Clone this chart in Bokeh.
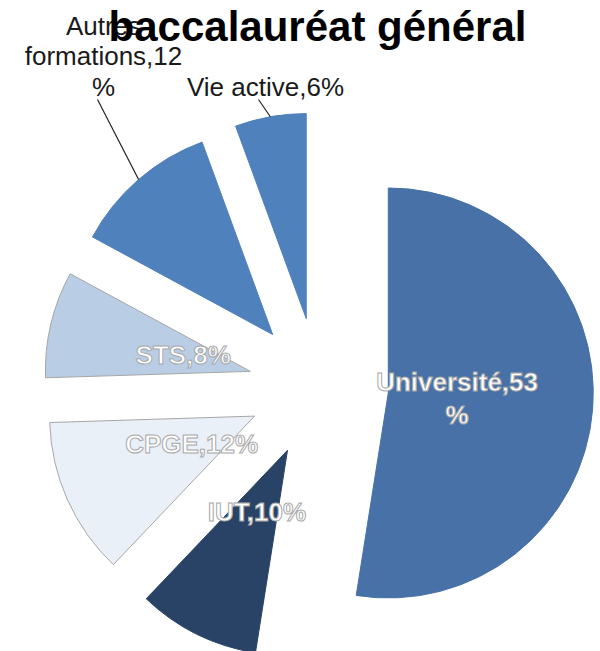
import math
from bokeh.plotting import figure
from bokeh.models import Range1d, ColumnDataSource
from bokeh.core.properties import value
from bokeh.embed import file_html
from bokeh.resources import INLINE

# ---- data ----
categories = ["Université", "IUT", "CPGE", "STS", "Autres formations", "Vie active"]
values = [52.5, 9.6, 12.4, 8.4, 11.5, 5.6]          # shares (%)
labels = ["Université,53\n%", "IUT,10%", "CPGE,12%", "STS,8%", "Autres\nformations,12\n%", "Vie active,6%"]
label_inside = [True, True, True, True, False, False]
colors = ["#4771A7", "#294366", "#EAF0F8", "#B9CDE5", "#4F81BD", "#4F81BD"]
edge_colors = ["#4771A7", "#294366", "#A6A6A6", "#A6A6A6", "#4F81BD", "#4F81BD"]
title_text = "baccalauréat général"

# ---- layout (page pixel space, y measured downward from page top) ----
W, H = 600, 651
CX, CY = 318, 387          # pie centre (page px)
R = 205                    # radius
EXPLODE = 70               # explosion distance
INNER_LABEL_DIST = 139     # from pie centre
outside_label_pos = {"Autres formations": (103, 56), "Vie active": (265, 86)}
outside_leader_start = {"Autres formations": (97, 99), "Vie active": (258, 99)}
FONT = "Liberation Sans"


def to_y(yp):
    return H - yp


p = figure(width=W, height=H, output_backend="svg", toolbar_location=None,
           x_range=Range1d(0, W), y_range=Range1d(0, H),
           min_border=0, outline_line_color=None)
p.axis.visible = False
p.grid.visible = False
p.background_fill_color = "white"
p.border_fill_color = "white"

total = sum(values)
xs, ys, starts, ends = [], [], [], []
in_x, in_y, in_t = [], [], []
out_x, out_y, out_t = [], [], []
lx0, ly0, lx1, ly1 = [], [], [], []
acc = 0.0
for cat, v, lab, inside in zip(categories, values, labels, label_inside):
    t1 = acc / total * 360.0
    acc += v
    t2 = acc / total * 360.0
    tm = math.radians((t1 + t2) / 2)
    dx, dy = math.sin(tm), math.cos(tm)   # y up
    ox = CX + EXPLODE * dx
    oy = to_y(CY) + EXPLODE * dy
    xs.append(ox)
    ys.append(oy)
    starts.append(math.radians(90 - t2))
    ends.append(math.radians(90 - t1))
    if inside:
        in_x.append(CX + INNER_LABEL_DIST * dx)
        in_y.append(to_y(CY) + INNER_LABEL_DIST * dy)
        in_t.append(lab)
    else:
        px, py = outside_label_pos[cat]
        out_x.append(px)
        out_y.append(to_y(py))
        out_t.append(lab)
        sx, sy = outside_leader_start[cat]
        lx0.append(sx)
        ly0.append(to_y(sy))
        lx1.append(ox + R * dx)
        ly1.append(oy + R * dy)

src = ColumnDataSource(dict(x=xs, y=ys, s=starts, e=ends, c=colors, lc=edge_colors))
p.wedge(x="x", y="y", radius=R, start_angle="s", end_angle="e", direction="anticlock",
        fill_color="c", line_color="lc", line_width=1, source=src)

p.segment(x0=lx0, y0=ly0, x1=lx1, y1=ly1, line_color="#222222", line_width=1.2)

p.text(x=in_x, y=in_y, text=in_t, text_font=value(FONT), text_font_style="bold",
       text_font_size="26px", text_color="white", text_align="center",
       text_baseline="middle", text_line_height=1.12,
       text_outline_color="#A8A8A8")

p.text(x=out_x, y=out_y, text=out_t, text_font=value(FONT),
       text_font_size="26px", text_color="#1a1a1a", text_align="center",
       text_baseline="middle", text_line_height=1.02)

p.text(x=[317], y=[to_y(26)], text=[title_text], text_font=value(FONT),
       text_font_style="bold", text_font_size="42px", text_color="black",
       text_align="center", text_baseline="alphabetic")

open("out.html", "w").write(file_html(p, INLINE))
